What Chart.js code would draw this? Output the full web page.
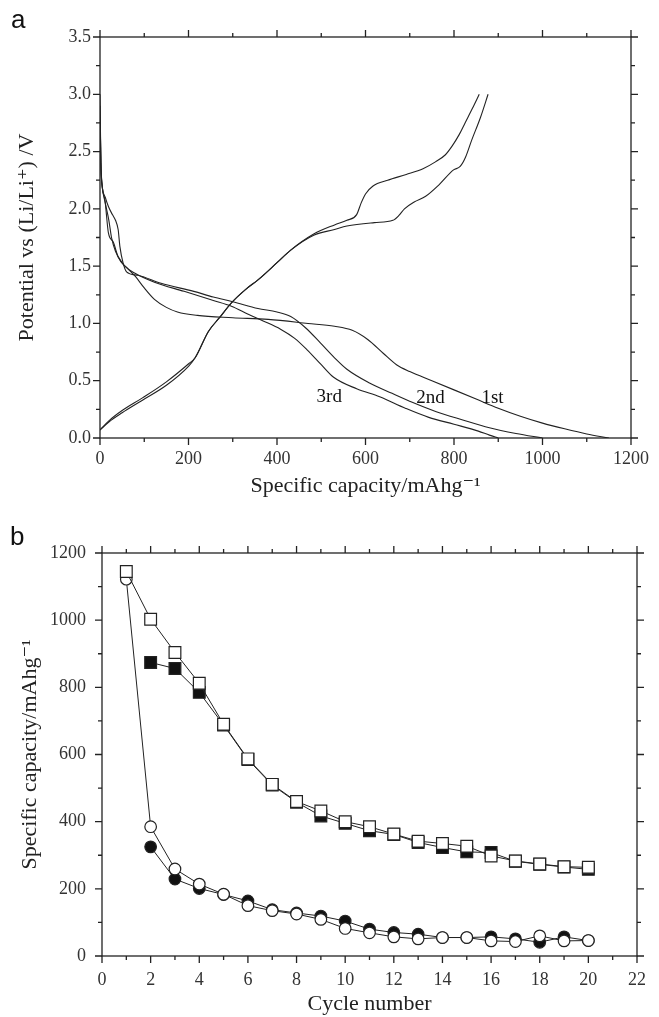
<!DOCTYPE html>
<html>
<head>
<meta charset="utf-8">
<script src="https://cdn.jsdelivr.net/npm/chart.js@4.4.1/dist/chart.umd.min.js"></script>
<style>
    body { margin: 0; background: #fff; }
    canvas { position: absolute; left: 0; }
    #chartA { top: 0; }
    #chartB { top: 500px; }
</style>
</head>
<body>
<canvas id="chartA" width="659" height="500"></canvas>
<canvas id="chartB" width="659" height="517"></canvas>
<script>
// panel a: voltage profiles (capacity mAh/g, potential V)
const dis1Cap = [0, 2, 5, 12, 20, 26, 35, 50, 65, 80, 100, 123, 150, 175, 220, 300, 380, 470, 530, 570, 605, 640, 670, 700, 750, 800, 850, 900, 950, 1000, 1050, 1100, 1150];
const dis1V   = [3.0, 2.4, 2.2, 2.05, 1.9, 1.75, 1.63, 1.53, 1.47, 1.41, 1.31, 1.21, 1.14, 1.10, 1.07, 1.05, 1.035, 1.0, 0.975, 0.94, 0.86, 0.74, 0.64, 0.58, 0.5, 0.42, 0.34, 0.26, 0.19, 0.13, 0.08, 0.035, 0.0];

const dis2Cap = [0, 2, 4, 12, 19, 28, 35, 41, 45, 52, 60, 85, 138, 212, 256, 300, 357, 400, 431, 465, 498, 530, 558, 609, 660, 707, 760, 818, 880, 940, 1000];
const dis2V   = [2.9, 2.4, 2.23, 2.1, 2.02, 1.95, 1.9, 1.82, 1.67, 1.53, 1.45, 1.42, 1.35, 1.28, 1.23, 1.19, 1.13, 1.10, 1.06, 0.96, 0.83, 0.70, 0.60, 0.48, 0.39, 0.31, 0.23, 0.16, 0.09, 0.04, 0.0];

const dis3Cap = [0, 3, 11, 19, 30, 41, 56, 78, 123, 190, 256, 297, 335, 370, 408, 440, 468, 500, 528, 580, 632, 690, 743, 800, 855, 880, 900];
const dis3V   = [2.8, 2.3, 2.08, 1.79, 1.71, 1.58, 1.50, 1.44, 1.36, 1.28, 1.20, 1.15, 1.08, 1.02, 0.95, 0.87, 0.77, 0.64, 0.53, 0.43, 0.36, 0.26, 0.18, 0.12, 0.06, 0.025, 0.0];

const chgACap = [0, 20, 50, 96, 150, 201, 215, 245, 270, 297, 330, 357, 400, 431, 483, 530, 558, 580, 590, 600, 617, 650, 692, 730, 758, 780, 796, 812, 825, 842, 857];
const chgAV   = [0.07, 0.15, 0.24, 0.35, 0.49, 0.65, 0.70, 0.93, 1.05, 1.18, 1.30, 1.38, 1.53, 1.64, 1.78, 1.86, 1.90, 1.95, 2.05, 2.13, 2.20, 2.25, 2.30, 2.35, 2.41, 2.47, 2.55, 2.65, 2.75, 2.88, 3.0];

const chgBCap = [0, 20, 50, 96, 150, 201, 215, 245, 270, 297, 330, 357, 400, 431, 483, 530, 558, 620, 662, 675, 688, 710, 736, 766, 799, 814, 826, 840, 860, 877];
const chgBV   = [0.07, 0.14, 0.22, 0.33, 0.46, 0.63, 0.70, 0.93, 1.05, 1.18, 1.30, 1.38, 1.53, 1.64, 1.77, 1.82, 1.85, 1.88, 1.90, 1.94, 2.0, 2.06, 2.11, 2.21, 2.34, 2.37, 2.45, 2.60, 2.80, 3.0];

const cycleLabels = ["3rd", "2nd", "1st"];
const cycleLabelCap = [518, 747, 887];
const cycleLabelV = [0.36, 0.35, 0.35];

// panel b: cycling (mAh/g)
const cycles = [1, 2, 3, 4, 5, 6, 7, 8, 9, 10, 11, 12, 13, 14, 15, 16, 17, 18, 19, 20];
const openSquare   = [1145, 1003, 904, 812, 690, 587, 511, 460, 432, 400, 385, 363, 342, 335, 327, 298, 283, 274, 266, 264];
const filledSquare = [null, 874, 856, 785, 688, 585, 509, 458, 417, 395, 373, 362, 338, 323, 310, 308, 282, 273, 265, 258];
const openCircle   = [1122, 385, 259, 214, 184, 150, 135, 125, 109, 82, 69, 57, 51, 55, 55, 45, 43, 60, 45, 46];
const filledCircle = [null, 325, 229, 201, 183, 164, 138, 128, 119, 104, 80, 70, 65, 55, 55, 57, 51, 41, 57, 46];

const ink = '#222';
const serif = "'Liberation Serif', 'DejaVu Serif', serif";

function toPoints(xs, ys) {
    return xs.map((x, i) => ({ x: x, y: ys[i] }));
}

function curve(xs, ys) {
    return {
        data: toPoints(xs, ys),
        showLine: true,
        borderColor: ink,
        borderWidth: 1.1,
        pointRadius: 0,
        cubicInterpolationMode: 'monotone',
        fill: false
    };
}

function markers(ys, style, filled, radius) {
    return {
        data: toPoints(cycles, ys).filter(p => p.y !== null),
        showLine: true,
        borderColor: ink,
        borderWidth: 1,
        pointStyle: style,
        pointRadius: radius,
        pointBorderWidth: 1.2,
        pointBorderColor: ink,
        pointBackgroundColor: filled ? '#111' : '#fff'
    };
}

// box around the plot with major/minor ticks pointing outward on every side
const framePlugin = {
    id: 'frame',
    afterDatasetsDraw(chart, args, opts) {
        const ctx = chart.ctx;
        const { left, right, top, bottom } = chart.chartArea;
        ctx.save();
        ctx.strokeStyle = ink;
        ctx.lineWidth = 1.3;
        ctx.strokeRect(left, top, right - left, bottom - top);

        const xs = chart.scales.x, ys = chart.scales.y;
        function isMajor(v, step) {
            return Math.abs(v / step - Math.round(v / step)) < 1e-6;
        }
        ctx.beginPath();
        for (let v = xs.min; v <= xs.max + 1e-9; v += opts.minorX) {
            const px = xs.getPixelForValue(v);
            const len = isMajor(v, opts.majorX) ? 7 : 4;
            ctx.moveTo(px, bottom); ctx.lineTo(px, bottom + len);
            ctx.moveTo(px, top); ctx.lineTo(px, top - len);
        }
        for (let v = ys.min; v <= ys.max + 1e-9; v += opts.minorY) {
            const py = ys.getPixelForValue(v);
            const len = isMajor(v, opts.majorY) ? 7 : 4;
            ctx.moveTo(left, py); ctx.lineTo(left - len, py);
            ctx.moveTo(right, py); ctx.lineTo(right + len, py);
        }
        ctx.stroke();

        ctx.fillStyle = '#111';
        ctx.font = "26px 'Liberation Sans', Arial, sans-serif";
        ctx.textBaseline = 'alphabetic';
        ctx.fillText(opts.panel, opts.panelX, opts.panelY);

        if (opts.notes) {
            ctx.font = '19px ' + serif;
            ctx.textAlign = 'center';
            ctx.textBaseline = 'middle';
            opts.notes.forEach(n => {
                ctx.fillText(n.text, xs.getPixelForValue(n.x), ys.getPixelForValue(n.y));
            });
        }
        ctx.restore();
    }
};

function axis(min, max, step, title, fmt, fitSize, tickPad, titlePad) {
    return {
        type: 'linear',
        min: min,
        max: max,
        grid: { display: false, drawTicks: false },
        border: { display: false },
        ticks: {
            stepSize: step,
            padding: tickPad,
            color: '#333',
            font: { family: serif, size: 18 },
            callback: fmt
        },
        title: {
            display: true,
            text: title,
            color: '#222',
            font: { family: serif, size: 22 },
            padding: titlePad
        },
        afterFit: function (scale) {
            if (scale.isHorizontal()) scale.height = fitSize;
            else scale.width = fitSize;
        }
    };
}

const notes = cycleLabels.map((t, i) => ({ text: t, x: cycleLabelCap[i], y: cycleLabelV[i] }));

new Chart(document.getElementById('chartA'), {
    type: 'scatter',
    data: {
        datasets: [
            curve(dis1Cap, dis1V),
            curve(dis2Cap, dis2V),
            curve(dis3Cap, dis3V),
            curve(chgACap, chgAV),
            curve(chgBCap, chgBV)
        ]
    },
    options: {
        responsive: false,
        animation: false,
        devicePixelRatio: 1,
        layout: { padding: { left: 0, right: 21, top: 37, bottom: 0 } },
        plugins: {
            legend: { display: false },
            tooltip: { enabled: false },
            frame: { minorX: 100, majorX: 200, minorY: 0.25, majorY: 0.5, panel: 'a', panelX: 11, panelY: 28, notes: notes }
        },
        scales: {
            x: axis(0, 1200, 200, 'Specific capacity/mAhg\u207B\u00B9', v => v, 62, 10, { top: 4, bottom: 1 }),
            y: axis(0, 3.5, 0.5, 'Potential vs (Li/Li\u207A) /V', v => v.toFixed(1), 100, 9, { top: 14, bottom: 4 })
        }
    },
    plugins: [framePlugin]
});

new Chart(document.getElementById('chartB'), {
    type: 'scatter',
    data: {
        datasets: [
            markers(openSquare, 'rect', false, 8.3),
            markers(openCircle, 'circle', false, 5.8),
            markers(filledSquare, 'rect', true, 8.3),
            markers(filledCircle, 'circle', true, 5.8)
        ]
    },
    options: {
        responsive: false,
        animation: false,
        devicePixelRatio: 1,
        layout: { padding: { left: 0, right: 15, top: 53, bottom: 0 } },
        plugins: {
            legend: { display: false },
            tooltip: { enabled: false },
            frame: { minorX: 1, majorX: 2, minorY: 100, majorY: 200, panel: 'b', panelX: 10, panelY: 45 }
        },
        scales: {
            x: axis(0, 22, 2, 'Cycle number', v => v, 61, 13, { top: 4, bottom: 0 }),
            y: axis(0, 1200, 200, 'Specific capacity/mAhg\u207B\u00B9', v => v, 102, 16, { top: 17, bottom: 4 })
        }
    },
    plugins: [framePlugin]
});
</script>
</body>
</html>
